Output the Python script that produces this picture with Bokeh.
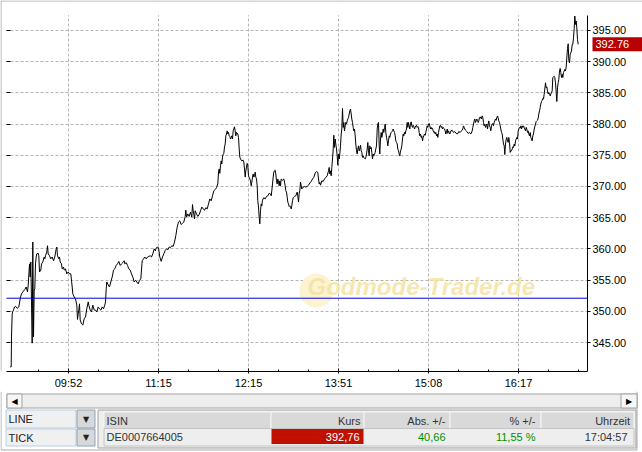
from bokeh.plotting import figure
from bokeh.models import Range1d, LinearAxis, FixedTicker, PrintfTickFormatter, Span, Label, BoxAnnotation
from bokeh.layouts import column
from bokeh.embed import file_html
from bokeh.resources import INLINE
from bokeh.core.properties import value

# ---------------- data (tick position, price) ----------------
morning = [
    (9.7, 341.1), (10.7, 341.1), (11.0, 345.9), (11.7, 349.6), (12.3, 350.0), (13.0, 350.2), (14.0, 350.7), (15.0, 350.8), (16.7, 350.5), (18.3, 350.7),
    (20.0, 352.3), (21.0, 352.8), (22.3, 353.1), (24.3, 353.5), (25.7, 353.9), (27.0, 353.1), (27.7, 354.2), (29.0, 357.6), (29.7, 355.5), (30.3, 357.9),
    (31.0, 351.5), (31.7, 344.9), (32.3, 361.1), (33.0, 345.9), (33.7, 353.4), (34.3, 353.6), (35.0, 357.6), (35.7, 358.7), (36.3, 359.2), (37.7, 359.3),
    (38.3, 358.9), (39.0, 356.3), (40.3, 356.6), (41.0, 357.6), (42.3, 357.9), (43.7, 358.7), (44.3, 358.4), (45.0, 358.9), (46.3, 359.5), (47.0, 360.5),
    (47.7, 359.2), (49.0, 358.9), (50.3, 358.4), (51.7, 358.7), (53.0, 358.1), (54.3, 358.7), (55.7, 360.0), (56.3, 360.3), (57.0, 358.9), (58.3, 358.4),
    (59.0, 358.7), (59.7, 357.9), (61.0, 357.6), (61.7, 356.8), (63.0, 357.1), (63.7, 356.6), (65.0, 356.8), (66.3, 356.0), (67.7, 356.3), (69.0, 356.0),
    (70.3, 356.0), (71.7, 353.9), (72.3, 352.8), (73.7, 352.3), (75.0, 352.0), (76.3, 351.0), (77.0, 348.7), (77.7, 349.6), (78.3, 350.2), (79.0, 351.2),
    (79.7, 348.6), (81.0, 348.0), (82.3, 347.8), (83.7, 348.8), (85.0, 349.1), (86.3, 350.4), (87.7, 351.5), (88.3, 351.0), (89.7, 350.2), (91.0, 349.9),
    (92.3, 351.0), (93.7, 350.2), (95.0, 350.2), (96.3, 349.9), (97.7, 350.7), (99.0, 350.4), (100.3, 350.2), (101.7, 350.7), (103.0, 350.4), (104.3, 351.0),
    (105.0, 351.5), (105.7, 353.6), (106.3, 354.7), (107.7, 354.2), (109.0, 353.9), (110.3, 354.7), (111.7, 355.5), (113.0, 356.6), (114.3, 356.8), (115.7, 357.35),
    (117.0, 357.6), (118.3, 358.0), (119.7, 357.35), (121.0, 357.6), (122.3, 357.8), (123.7, 358.1), (124.3, 357.6), (125.7, 357.8), (127.0, 357.35), (128.3, 356.8),
    (129.7, 356.6), (131.0, 356.0), (132.3, 355.5), (133.7, 354.7), (135.0, 354.96), (136.3, 354.7), (137.7, 354.4), (139.0, 354.96), (140.3, 355.2), (141.7, 358.1),
    (143.0, 358.4), (144.3, 358.7), (145.7, 358.4), (147.0, 358.7), (148.3, 358.8), (149.7, 358.9), (151.0, 358.7), (152.3, 359.2), (153.7, 360.0), (155.0, 359.7),
]
midday = [
    (155.3, 360.0), (156.7, 360.3), (158.0, 360.2), (159.3, 358.7), (160.7, 358.0), (162.0, 358.7), (163.3, 359.2), (164.7, 359.75), (166.0, 360.0), (167.3, 359.85),
    (168.7, 360.3), (170.0, 360.2), (171.3, 360.5), (172.7, 360.4), (174.0, 361.1), (175.3, 362.1), (176.7, 363.5), (178.0, 364.3), (179.3, 364.5), (180.7, 363.9),
    (182.0, 364.1), (183.3, 364.3), (184.7, 365.2), (185.3, 366.2), (186.0, 365.1), (187.3, 365.6), (188.7, 365.2), (190.0, 365.9), (191.3, 365.1), (192.0, 367.1),
    (192.7, 366.1), (193.3, 365.6), (194.0, 364.8), (194.7, 366.1), (196.0, 365.6), (197.3, 365.2), (198.7, 365.5), (200.0, 366.1), (201.3, 366.7), (202.7, 366.4),
    (204.0, 366.2), (205.3, 366.6), (206.7, 366.4), (208.0, 367.2), (209.3, 368.0), (210.7, 367.7), (212.0, 368.5), (213.3, 369.3), (214.7, 369.5), (216.0, 369.8),
    (217.3, 370.4), (218.0, 372.3), (218.7, 372.8), (219.3, 372.1), (220.0, 373.3), (220.7, 374.1), (221.3, 373.6), (222.0, 374.7), (222.7, 375.2), (223.3, 375.3),
    (224.0, 376.3), (224.7, 376.8), (225.3, 378.1), (226.0, 378.4), (226.7, 378.9), (227.3, 378.4), (228.0, 378.65), (228.7, 378.1), (229.3, 378.0), (230.0, 377.6),
    (230.7, 377.85), (231.3, 378.1), (232.0, 377.6), (232.7, 378.9), (233.3, 379.2), (234.0, 379.55), (234.7, 378.9), (235.3, 378.1), (236.0, 378.65), (237.3, 378.4),
    (238.0, 377.85), (238.7, 376.0), (239.3, 374.7), (240.0, 374.4), (241.3, 374.1), (242.7, 374.2), (243.3, 373.9), (244.0, 372.8), (244.7, 371.5), (245.3, 372.5),
    (246.0, 373.1), (246.7, 373.7), (247.3, 373.3), (248.0, 371.7), (249.3, 371.2), (250.0, 370.9), (250.7, 370.1), (251.3, 370.7), (252.0, 371.5), (252.7, 372.0),
    (253.3, 371.5), (254.0, 371.7), (254.7, 372.3), (255.3, 371.5), (256.0, 371.2), (256.7, 370.1), (257.3, 367.7), (258.0, 366.7), (258.7, 365.1), (259.3, 364.0),
    (260.0, 366.1), (260.7, 367.2), (261.3, 366.9), (262.0, 367.8), (263.3, 368.2), (264.7, 368.0), (266.0, 368.4), (267.3, 368.5), (268.7, 368.9), (270.0, 368.8),
    (270.7, 368.5), (271.3, 369.3), (272.0, 370.4), (272.7, 371.5), (273.3, 372.3), (274.0, 372.5), (274.7, 372.6), (275.3, 372.0), (276.0, 370.9), (276.7, 370.4),
    (277.3, 371.2), (278.0, 370.7), (278.7, 370.1), (279.3, 370.9), (280.0, 370.1), (280.7, 371.2), (282.0, 371.0), (283.3, 371.2), (284.0, 370.7), (284.7, 370.1),
    (285.3, 369.3), (286.0, 369.1), (286.7, 368.3), (287.3, 367.5), (288.0, 367.2), (288.7, 366.8), (289.3, 366.9), (290.0, 366.7), (290.7, 366.4), (291.3, 366.9),
    (292.0, 367.7), (292.7, 368.2), (294.0, 368.4), (295.3, 368.5), (296.7, 369.1), (297.3, 368.5), (298.0, 367.5), (298.7, 368.9), (299.3, 369.3), (300.0, 370.7),
]
afternoon = [
    (301.3, 369.6), (302.7, 369.9), (304.0, 370.0), (305.3, 369.9), (306.7, 370.0), (308.0, 370.2), (309.3, 370.55), (310.7, 370.8), (312.0, 371.2), (313.3, 371.45),
    (314.7, 372.15), (316.0, 372.4), (317.3, 372.25), (318.0, 371.2), (318.7, 370.4), (319.3, 370.65), (320.0, 370.2), (321.3, 370.9), (322.7, 370.8), (324.0, 371.2),
    (325.3, 371.45), (326.7, 371.7), (328.0, 372.5), (328.7, 373.05), (329.3, 372.0), (330.0, 372.5), (330.7, 371.7), (331.3, 373.05), (332.0, 374.4), (332.7, 376.0),
    (333.3, 378.2), (334.0, 376.25), (334.7, 377.6), (335.3, 376.8), (336.0, 376.0), (336.7, 374.9), (337.3, 373.4), (338.0, 375.2), (338.7, 374.4), (339.3, 375.2),
    (340.0, 376.5), (340.7, 378.4), (341.3, 379.2), (342.0, 382.5), (342.7, 379.45), (343.3, 380.25), (344.0, 378.9), (344.7, 379.7), (345.3, 380.25), (346.0, 380.0),
    (346.7, 380.5), (347.3, 380.8), (348.0, 381.0), (348.7, 381.6), (349.3, 382.1), (350.0, 382.4), (350.7, 381.6), (351.3, 380.8), (352.0, 380.25), (352.7, 379.45),
    (353.3, 378.9), (354.0, 379.2), (354.7, 378.1), (355.3, 376.8), (356.0, 375.7), (356.7, 375.2), (357.3, 376.0), (358.0, 376.5), (358.7, 375.7), (359.3, 376.0),
    (360.0, 376.6), (360.7, 375.7), (361.3, 375.45), (362.0, 374.65), (362.7, 374.9), (363.3, 374.65), (364.0, 374.5), (364.7, 374.4), (365.3, 374.65), (366.0, 375.2),
    (366.7, 376.0), (367.3, 377.05), (368.0, 375.7), (368.7, 374.9), (369.3, 376.5), (370.0, 376.0), (370.7, 376.25), (371.3, 375.45), (372.0, 374.4), (372.7, 375.2),
    (373.3, 374.9), (374.0, 375.2), (374.7, 375.45), (375.3, 376.0), (376.0, 376.5), (376.7, 379.2), (377.3, 380.0), (378.0, 380.25), (378.7, 376.5), (379.3, 375.2),
    (380.0, 377.6), (380.7, 378.65), (381.3, 377.85), (382.0, 378.4), (382.7, 379.2), (383.3, 378.65), (384.0, 379.45), (384.7, 380.0), (385.3, 378.65), (386.0, 377.85),
    (386.7, 377.3), (387.3, 376.5), (388.0, 377.3), (388.7, 378.1), (389.3, 377.85), (390.0, 378.4), (390.7, 378.65), (391.3, 378.75), (392.0, 378.9), (392.7, 379.2),
    (393.3, 378.9), (394.0, 378.65), (394.7, 378.1), (395.3, 377.3), (396.0, 377.05), (396.7, 376.8), (397.3, 376.0), (398.0, 375.7), (398.7, 375.2), (399.3, 374.9),
    (400.0, 375.7), (400.7, 376.0), (401.3, 376.5), (402.0, 377.6), (402.7, 378.4), (403.3, 378.1), (404.0, 378.65), (404.7, 378.4), (405.3, 378.9), (406.0, 379.2),
    (406.7, 380.25), (407.3, 379.45), (408.0, 380.25), (408.7, 379.7), (409.3, 379.2), (410.0, 380.0), (410.7, 380.35), (411.3, 379.7), (412.0, 379.45), (412.7, 379.8),
    (413.3, 379.6), (414.0, 379.2), (414.7, 379.45), (415.3, 379.7), (416.0, 379.8), (416.7, 379.45), (417.3, 379.6), (418.0, 379.45), (418.7, 378.65), (419.3, 378.1),
    (420.0, 378.4), (420.7, 377.85), (421.3, 378.1), (422.0, 377.3), (422.7, 377.85), (423.3, 378.1), (424.0, 378.4), (424.7, 378.2), (425.3, 378.65), (426.0, 379.2),
    (426.7, 379.7), (427.3, 379.45), (428.0, 380.0), (428.7, 380.1), (429.3, 379.7), (430.0, 379.2), (430.7, 379.45), (431.3, 379.2), (432.0, 379.3), (432.7, 378.9),
    (433.3, 378.65), (434.0, 378.75), (434.7, 378.4), (435.3, 378.65), (436.0, 378.1), (436.7, 378.4), (437.3, 377.85), (438.0, 378.65), (438.7, 379.2), (439.3, 379.7),
    (440.0, 379.8), (440.7, 379.45), (441.3, 379.6), (442.0, 379.2), (442.7, 379.45), (443.3, 379.3), (444.0, 379.2), (444.7, 378.9), (445.3, 378.4), (446.0, 378.65),
    (446.7, 379.2), (447.3, 378.5), (448.0, 378.9), (448.7, 378.65), (449.3, 378.4), (450.0, 378.65),
]
late = [
    (450.3, 378.9), (451.7, 379.0), (453.0, 378.65), (454.3, 378.8), (455.7, 378.5), (457.0, 378.4), (458.3, 378.8), (459.7, 378.65), (461.0, 378.9), (462.3, 379.2),
    (463.0, 379.7), (463.7, 379.45), (464.3, 379.2), (465.0, 379.0), (466.3, 378.8), (467.7, 378.5), (469.0, 378.65), (470.3, 378.4), (471.7, 378.9), (472.3, 379.45),
    (473.0, 380.0), (473.7, 380.5), (474.3, 380.8), (475.0, 380.25), (475.7, 380.5), (476.3, 380.8), (477.0, 380.6), (477.7, 380.25), (478.3, 380.5), (479.0, 381.05),
    (479.7, 380.95), (480.3, 381.15), (481.0, 380.8), (481.7, 381.3), (482.3, 381.05), (483.0, 380.25), (483.7, 379.7), (484.3, 380.0), (485.0, 379.45), (485.7, 379.7),
    (486.3, 380.0), (487.0, 379.2), (487.7, 380.0), (488.3, 380.5), (489.0, 379.7), (489.7, 379.45), (490.3, 378.9), (491.0, 379.7), (491.7, 380.0), (492.3, 380.1),
    (493.0, 379.7), (493.7, 380.25), (494.3, 380.5), (495.0, 380.8), (495.7, 380.6), (496.3, 381.05), (497.0, 381.3), (497.7, 380.95), (498.3, 380.5), (499.0, 380.25),
    (499.7, 379.7), (500.3, 379.2), (501.0, 378.65), (501.7, 378.4), (502.3, 377.6), (503.0, 376.8), (503.7, 376.5), (504.3, 375.1), (505.0, 376.8), (505.7, 377.6),
    (506.3, 377.85), (507.0, 377.3), (507.7, 377.05), (508.3, 377.85), (509.0, 377.05), (509.7, 375.45), (510.3, 375.7), (511.0, 375.7), (511.7, 376.0), (512.3, 376.35),
    (513.0, 376.25), (513.7, 376.8), (514.3, 376.5), (515.0, 377.3), (515.7, 377.6), (516.3, 377.85), (517.0, 377.6), (517.7, 378.9), (518.3, 379.2), (519.0, 379.45),
    (519.7, 379.35), (520.3, 379.7), (521.0, 379.2), (521.7, 379.7), (522.3, 379.45), (523.0, 379.7), (523.7, 379.45), (524.3, 379.2), (525.0, 378.9), (525.7, 379.45),
    (526.3, 379.2), (527.0, 378.65), (527.7, 378.9), (528.3, 378.4), (529.0, 378.1), (529.7, 378.65), (530.3, 377.85), (531.0, 377.6), (531.7, 377.3), (532.3, 378.1),
    (533.0, 378.4), (533.7, 379.2), (534.3, 379.55), (535.0, 380.0), (535.7, 380.4), (536.3, 380.5), (537.0, 380.6), (537.7, 380.95), (538.3, 381.6), (539.0, 382.1),
    (539.7, 382.65), (540.3, 383.2), (541.0, 383.6), (541.7, 383.8), (542.3, 384.1), (543.0, 384.0), (543.7, 384.8), (544.3, 385.6), (545.0, 386.6), (545.7, 385.8),
    (546.3, 385.95), (547.0, 385.3), (547.7, 384.8), (548.3, 385.05), (549.0, 384.9), (549.7, 384.5), (550.3, 384.8), (551.0, 385.05), (551.7, 385.3), (552.3, 387.45),
    (553.0, 387.55), (553.7, 387.65), (554.3, 387.45), (555.0, 386.6), (555.7, 385.05), (556.3, 383.6), (557.0, 385.8), (557.7, 386.6), (558.3, 387.15), (559.0, 388.5),
    (559.7, 388.9), (560.3, 388.25), (561.0, 387.45), (561.7, 387.95), (562.3, 387.45), (563.0, 388.25), (563.7, 388.5), (564.3, 388.75), (565.0, 388.5), (565.7, 389.15),
    (566.3, 390.6), (567.0, 392.1), (567.7, 392.85), (568.3, 390.2), (569.0, 389.8), (569.7, 391.15), (570.3, 391.4), (571.0, 391.7), (571.7, 392.75), (572.3, 392.75),
    (573.0, 393.8), (573.7, 395.3), (574.3, 397.3), (575.0, 395.95), (575.7, 396.5), (576.3, 395.4), (577.0, 393.55), (577.7, 392.76),
]

time_ticks = [68, 158, 248, 338, 428, 518]
time_labels = ["09:52", "11:15", "12:15", "13:51", "15:08", "16:17"]
minor_time_ticks = [38, 98, 128, 188, 218, 278, 308, 368, 398, 458, 488, 548, 578]
price_ticks = [345, 350, 355, 360, 365, 370, 375, 380, 385, 390, 395]
prev_close = 352.10
last_price = 392.76
table_headers = ["ISIN", "Kurs", "Abs. +/-", "% +/-", "Uhrzeit"]
table_values = ["DE0007664005", "392,76", "40,66", "11,55 %", "17:04:57"]
chart_modes = ["LINE", "TICK"]
watermark = "Godmode-Trader.de"

series = morning + midday + afternoon + late
tick_pos = [t for t, _ in series]
price = [v for _, v in series]

FONT = "Liberation Sans"
W, H1, H2 = 642, 391, 61
X0, X_AXIS, X_END = 6, 587, 642        # tick axis start, price axis position, right edge
Y_BOTTOM, Y_PLOT_TOP, Y_TOP = 340.36, 397.44, 399.784
PX_PER_UNIT = 372 / (Y_TOP - Y_BOTTOM)
BORDER = "#a9a9a9"

# ---------------- chart ----------------
p = figure(width=W, height=H1, output_backend="svg", toolbar_location=None,
           x_range=Range1d(0, X_END), y_range=Range1d(Y_BOTTOM, Y_TOP),
           y_axis_location="right", min_border_left=0, min_border_right=0,
           min_border_top=0, min_border_bottom=19, outline_line_color=None,
           background_fill_color="white", border_fill_color="white", frame_align=False)

xa = p.xaxis[0]
xa.ticker = FixedTicker(ticks=time_ticks, minor_ticks=minor_time_ticks)
xa.major_label_overrides = dict(zip(time_ticks, time_labels))
xa.bounds = (X0, X_AXIS)
xa.major_tick_in = 3
xa.major_tick_out = 2
xa.minor_tick_in = 2
xa.minor_tick_out = 0
xa.axis_line_color = "black"
xa.major_tick_line_color = "black"
xa.minor_tick_line_color = "black"
xa.major_label_text_font = FONT
xa.major_label_text_font_size = "11px"
xa.major_label_text_color = "black"
xa.major_label_standoff = 3

ya = p.yaxis[0]
ya.fixed_location = X_AXIS
ya.bounds = (Y_BOTTOM, Y_PLOT_TOP)
ya.ticker = FixedTicker(ticks=price_ticks)
ya.formatter = PrintfTickFormatter(format="%.2f")
ya.major_tick_in = 0
ya.major_tick_out = 3
ya.minor_tick_in = 0
ya.minor_tick_out = 0
ya.axis_line_color = "black"
ya.major_tick_line_color = "black"
ya.major_label_text_font = FONT
ya.major_label_text_font_size = "11px"
ya.major_label_text_color = "black"
ya.major_label_standoff = 2

la = LinearAxis(ticker=FixedTicker(ticks=price_ticks), fixed_location=X0,
                major_label_text_color=None, major_tick_in=4, major_tick_out=0,
                minor_tick_in=0, minor_tick_out=0, axis_line_color=None,
                major_tick_line_color="black")
p.add_layout(la, "left")

p.xgrid.ticker = FixedTicker(ticks=time_ticks)
p.ygrid.ticker = FixedTicker(ticks=price_ticks)
p.grid.grid_line_color = "#b4b4b4"
p.grid.grid_line_dash = "3 2"
p.grid.grid_line_width = 1

# watermark
p.add_layout(Label(x=316, y=353.95, text="\u25cf", text_align="center", text_baseline="middle",
                   text_font="DejaVu Sans", text_font_size="44px", text_color="#fcf3d2",
                   level="underlay"))
p.add_layout(Label(x=307, y=354.0, text=watermark, text_align="left", text_baseline="middle",
                   text_font=FONT, text_font_style="bold italic", text_font_size="24px",
                   text_color="#f5e3a2", text_alpha=0.85, level="underlay"))

# blank margins around the plotting area (grid stops at the axes)
for box in (BoxAnnotation(left=X_AXIS), BoxAnnotation(right=X0), BoxAnnotation(bottom=Y_PLOT_TOP)):
    box.fill_color = "white"
    box.fill_alpha = 1.0
    box.line_color = None
    box.level = "underlay"
    p.add_layout(box)

# window border (top and left)
p.add_layout(Span(location=0.5, dimension="height", line_color=BORDER, line_width=1))
p.add_layout(Span(location=Y_TOP - 0.5 / PX_PER_UNIT, dimension="width", line_color=BORDER, line_width=1))

p.line(tick_pos, price, line_color="black", line_width=1)

# previous close reference line, drawn over the price line up to the price axis
p.line([X0, X_AXIS], [prev_close, prev_close], line_color="#0000dd", line_width=1)

p.add_layout(Label(x=X_AXIS, y=last_price, x_offset=5, text=f"{last_price:.2f}",
                   text_align="left", text_baseline="middle", text_color="white",
                   text_font=FONT, text_font_size="11px",
                   background_fill_color="#b80000", padding=(3, 16, 3, 3)))

# ---------------- bottom panel (scrollbar, combos, quote table) ----------------
t = figure(width=W, height=H2, output_backend="svg", toolbar_location=None,
           x_range=Range1d(0, W), y_range=Range1d(H2, 0), x_axis_type=None, y_axis_type=None,
           min_border_left=0, min_border_right=0, min_border_top=0, min_border_bottom=0,
           outline_line_color=None, background_fill_color="white",
           border_fill_color="white", frame_align=False)
t.grid.visible = False

# window border
t.segment(x0=[0.5, 0.5, 636.5], y0=[0, 58.5, 0], x1=[0.5, 636.5, 636.5], y1=[58.5, 58.5, 58.5],
          line_color=BORDER, line_width=1)

# scrollbar
t.quad(left=[6.5], right=[636.5], top=[2.5], bottom=[16.5], fill_color="#eeeeee", line_color="#a3a3a3")
t.quad(left=[6.5, 620.5], right=[21.5, 636.5], top=[2.5, 2.5], bottom=[16.5, 16.5],
       fill_color="#f6f6f6", line_color="#a3a3a3")
t.text(x=[14.0, 628.5], y=[9.5, 9.5], text=["\u25c0", "\u25b6"], text_font=value("DejaVu Sans"),
       text_font_size="8px", text_color="black", text_align="center", text_baseline="middle")

# combo boxes
t.quad(left=[5.5, 5.5], right=[75.5, 75.5], top=[18.5, 37.5], bottom=[36.5, 54.5],
       fill_color="#f0f0f0", line_color="#b8cfe5")
t.quad(left=[76.5, 76.5], right=[94.5, 94.5], top=[18.5, 37.5], bottom=[36.5, 54.5],
       fill_color="#d8d8d8", line_color="#8fa3b6")
t.text(x=[85.5, 85.5], y=[27.5, 46.0], text=["\u25bc", "\u25bc"], text_font=value("DejaVu Sans"),
       text_font_size="8px", text_color="#222222", text_align="center", text_baseline="middle")
t.text(x=[8.0, 8.0], y=[27.5, 46.0], text=chart_modes, text_font=value(FONT),
       text_font_size="11px", text_color="#222222", text_align="left", text_baseline="middle")

# quote table
col_edges = [103.5, 270.5, 363.5, 449.5, 540.5, 633.5]
t.quad(left=[97.5], right=[635.5], top=[18.5], bottom=[56.5], fill_color="#eeeeee", line_color="#a0a0a0")
t.quad(left=col_edges[:-1], right=col_edges[1:], top=[20.5] * 5, bottom=[37.0] * 5,
       fill_color="#d9d9d9", line_color="#f6f6f6")
t.quad(left=[103.5], right=[633.5], top=[37.0], bottom=[54.5], fill_color="#eeeeee", line_color="#c4c4c4")
t.quad(left=[271], right=[363], top=[37.5], bottom=[52.5], fill_color="#bf1000", line_color=None)

hx = [106.0, 360.0, 445.0, 535.0, 629.5]
t.text(x=hx[:1], y=[29.0], text=table_headers[:1], text_font=value(FONT), text_font_size="11px",
       text_color="#333333", text_align="left", text_baseline="middle")
t.text(x=hx[1:], y=[29.0] * 4, text=table_headers[1:], text_font=value(FONT), text_font_size="11px",
       text_color="#333333", text_align="right", text_baseline="middle")

dx = [106.0, 359.0, 445.0, 535.0, 627.0]
dcol = ["#333333", "white", "#008f00", "#008f00", "#333333"]
t.text(x=dx[:1], y=[45.5], text=table_values[:1], text_font=value(FONT), text_font_size="11px",
       text_color=dcol[0], text_align="left", text_baseline="middle")
t.text(x=dx[1:], y=[45.5] * 4, text=table_values[1:], text_font=value(FONT), text_font_size="11px",
       text_color=dcol[1:], text_align="right", text_baseline="middle")

layout = column(p, t)
open("out.html", "w").write(file_html(layout, INLINE))
